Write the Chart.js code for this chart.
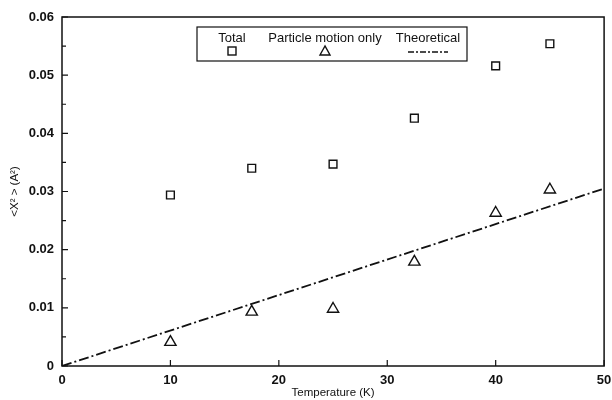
<!DOCTYPE html>
<html>
<head>
<meta charset="utf-8">
<script src="https://cdn.jsdelivr.net/npm/chart.js@4/dist/chart.umd.min.js"></script>
<style>
  html, body { margin: 0; padding: 0; background: #fff; }
  #wrap { width: 612px; height: 400px; }
</style>
</head>
<body>
<div id="wrap"><canvas id="c" width="612" height="400"></canvas></div>
<script>
// data
const temps = [10, 17.5, 25, 32.5, 40, 45];
const totalVals = [0.0294, 0.0340, 0.0347, 0.0426, 0.0516, 0.0554];
const particleVals = [0.0041, 0.0093, 0.0098, 0.0179, 0.0263, 0.0303];
const theoryT = [0, 50];
const theoryVals = [0, 0.0305];
const xTicks = [0, 10, 20, 30, 40, 50];
const yTicks = [0, 0.01, 0.02, 0.03, 0.04, 0.05, 0.06];
const legendLabels = ['Total', 'Particle motion only', 'Theoretical'];

const FONT = '"Liberation Sans", Arial, sans-serif';
const ink = '#111';

// frame + inward ticks
const frameTicks = {
    id: 'frameTicks',
    afterDatasetsDraw(chart) {
        const ctx = chart.ctx;
        const a = chart.chartArea;
        const xs = chart.scales.x, ys = chart.scales.y;
        ctx.save();
        ctx.strokeStyle = ink;
        ctx.lineWidth = 1.5;
        ctx.strokeRect(a.left, a.top, a.right - a.left, a.bottom - a.top);
        ctx.lineWidth = 1.2;
        ctx.beginPath();
        xTicks.forEach(v => {
            const px = xs.getPixelForValue(v);
            ctx.moveTo(px, a.bottom);
            ctx.lineTo(px, a.bottom - 6);
        });
        yTicks.forEach(v => {
            const py = ys.getPixelForValue(v);
            ctx.moveTo(a.left, py);
            ctx.lineTo(a.left + 6, py);
        });
        // minor y ticks
        for (let i = 0; i < yTicks.length - 1; i++) {
            const py = ys.getPixelForValue((yTicks[i] + yTicks[i + 1]) / 2);
            ctx.moveTo(a.left, py);
            ctx.lineTo(a.left + 4, py);
        }
        ctx.stroke();
        ctx.restore();
    }
};

// boxed legend with labels above the symbols
const boxLegend = {
    id: 'boxLegend',
    afterDraw(chart) {
        const ctx = chart.ctx;
        const bx = 197, by = 27, bw = 270, bh = 34;
        const centers = [232, 325, 428];
        ctx.save();
        ctx.fillStyle = '#fff';
        ctx.fillRect(bx, by, bw, bh);
        ctx.strokeStyle = ink;
        ctx.lineWidth = 1.2;
        ctx.strokeRect(bx, by, bw, bh);
        ctx.fillStyle = ink;
        ctx.font = '13px ' + FONT;
        ctx.textAlign = 'center';
        ctx.textBaseline = 'alphabetic';
        legendLabels.forEach((t, i) => ctx.fillText(t, centers[i], by + 15));
        // square
        ctx.lineWidth = 1.4;
        ctx.strokeRect(centers[0] - 4, by + 20, 8, 8);
        // triangle
        ctx.beginPath();
        ctx.moveTo(centers[1], by + 19);
        ctx.lineTo(centers[1] - 5, by + 28);
        ctx.lineTo(centers[1] + 5, by + 28);
        ctx.closePath();
        ctx.stroke();
        // dash-dot
        ctx.setLineDash([6, 2, 2, 2]);
        ctx.beginPath();
        ctx.moveTo(centers[2] - 20, by + 25);
        ctx.lineTo(centers[2] + 20, by + 25);
        ctx.stroke();
        ctx.restore();
    }
};

new Chart(document.getElementById('c'), {
    type: 'scatter',
    data: {
        datasets: [
            {
                label: legendLabels[0],
                data: temps.map((t, i) => ({ x: t, y: totalVals[i] })),
                pointStyle: 'rect',
                pointRadius: 5.5,
                borderColor: ink,
                backgroundColor: 'rgba(0,0,0,0)',
                borderWidth: 1.4
            },
            {
                label: legendLabels[1],
                data: temps.map((t, i) => ({ x: t, y: particleVals[i] })),
                pointStyle: 'triangle',
                pointRadius: 6.5,
                borderColor: ink,
                backgroundColor: 'rgba(0,0,0,0)',
                borderWidth: 1.4
            },
            {
                label: legendLabels[2],
                data: theoryT.map((t, i) => ({ x: t, y: theoryVals[i] })),
                showLine: true,
                pointRadius: 0,
                borderColor: ink,
                borderWidth: 1.8,
                borderDash: [10, 3, 2, 3]
            }
        ]
    },
    options: {
        responsive: false,
        animation: false,
        layout: { padding: { top: 17, right: 7, left: 0, bottom: 0 } },
        plugins: { legend: { display: false }, tooltip: { enabled: false } },
        scales: {
            x: {
                type: 'linear',
                min: 0, max: 50,
                afterBuildTicks: s => { s.ticks = xTicks.map(v => ({ value: v })); },
                afterFit: s => { s.height = 34; s.paddingRight = 0; s.paddingLeft = 0; },
                grid: { display: false, drawTicks: false },
                border: { display: false },
                ticks: { color: ink, font: { family: FONT, size: 13, weight: 'bold' }, padding: 7 },
                title: { display: true, text: 'Temperature (K)', color: ink, font: { family: FONT, size: 11.5 }, padding: { top: 0, bottom: 0 } }
            },
            y: {
                type: 'linear',
                min: 0, max: 0.06,
                afterBuildTicks: s => { s.ticks = yTicks.map(v => ({ value: v })); },
                afterFit: s => { s.width = 62; s.paddingTop = 0; s.paddingBottom = 0; },
                grid: { display: false, drawTicks: false },
                border: { display: false },
                ticks: {
                    color: ink, font: { family: FONT, size: 13, weight: 'bold' }, padding: 8,
                    callback: v => v === 0 ? '0' : v.toFixed(2)
                },
                title: { display: true, text: '<X² > (A²)', color: ink, font: { family: FONT, size: 11.5 }, padding: { top: 8, bottom: 0 } }
            }
        }
    },
    plugins: [frameTicks, boxLegend]
});
</script>
</body>
</html>
